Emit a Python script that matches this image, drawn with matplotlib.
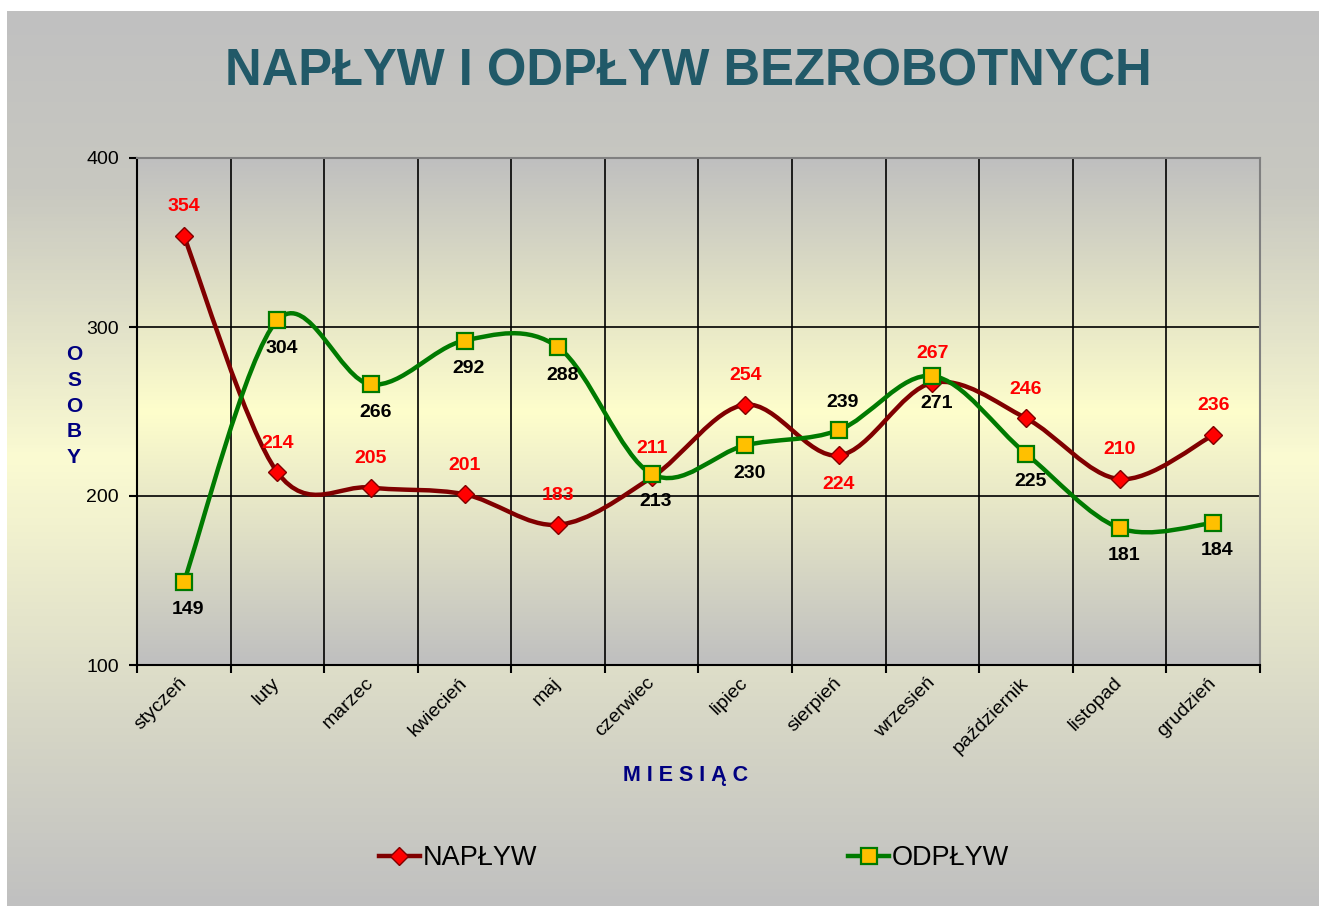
import numpy as np
import matplotlib
matplotlib.use('Agg')
import matplotlib.pyplot as plt
from matplotlib.path import Path
from matplotlib.patches import PathPatch
from matplotlib.lines import Line2D
from matplotlib.colors import LinearSegmentedColormap

plt.rcParams['font.family'] = ['Liberation Sans', 'DejaVu Sans']

# Dane
miesiace = ['styczeń', 'luty', 'marzec', 'kwiecień', 'maj', 'czerwiec', 'lipiec',
            'sierpień', 'wrzesień', 'październik', 'listopad', 'grudzień']
naplyw = [354, 214, 205, 201, 183, 211, 254, 224, 267, 246, 210, 236]
odplyw = [149, 304, 266, 292, 288, 213, 230, 239, 271, 225, 181, 184]
# etykieta nad (1) albo pod (-1) punktem
naplyw_poz = [1, 1, 1, 1, 1, 1, 1, -1, 1, 1, 1, 1]
odplyw_poz = [-1, -1, -1, -1, -1, -1, -1, 1, -1, -1, -1, -1]
os_y = [100, 200, 300, 400]
siatka_y = [200, 300]


def gladka_sciezka(x, y):
    # krzywa Beziera przez punkty (jak wygladzona linia w Excelu)
    pts = np.column_stack([x, y]).astype(float)
    p = np.vstack([pts[0], pts, pts[-1]])
    verts = [pts[0]]
    codes = [Path.MOVETO]
    for i in range(1, len(p) - 2):
        c1 = p[i] + (p[i + 1] - p[i - 1]) / 6
        c2 = p[i + 1] - (p[i + 2] - p[i]) / 6
        verts += [c1, c2, p[i + 1]]
        codes += [Path.CURVE4] * 3
    return Path(verts, codes)


def gradient(ax, kolory, pozycje):
    cmap = LinearSegmentedColormap.from_list('g', list(zip(pozycje, kolory)))
    ax.imshow(np.linspace(0, 1, 256).reshape(-1, 1), cmap=cmap, aspect='auto',
              extent=[0, 1, 0, 1], transform=ax.transAxes, origin='upper', zorder=-5)


W, H = 1319, 906
fig = plt.figure(figsize=(W / 100, H / 100), dpi=100, facecolor='white')

# tlo calego wykresu
tlo = fig.add_axes([7 / W, 0, 1 - 7 / W, 1 - 11 / H], zorder=-10)
gradient(tlo, ['#c0c0c0', '#c8c8c0', '#fbfbd2', '#d6d6c6', '#c0c0c0'], [0, 0.2, 0.5, 0.8, 1])
tlo.set_axis_off()

ax = fig.add_axes([137 / W, 1 - 665 / H, (1260 - 137) / W, (665 - 158) / H])
gradient(ax, ['#bfbfbf', '#fefecc', '#bfbfbf'], [0, 0.5, 1])

x = np.arange(len(miesiace))

# NAPŁYW
ax.add_patch(PathPatch(gladka_sciezka(x, naplyw), fill=False, edgecolor='#800000', lw=3.2, zorder=3))
ax.plot(x, naplyw, ls='none', marker='D', ms=9.5, mfc='#ff0000', mec='#800000', mew=1, zorder=4)
# ODPŁYW
ax.add_patch(PathPatch(gladka_sciezka(x, odplyw), fill=False, edgecolor='#007a00', lw=3.2, zorder=5))
ax.plot(x, odplyw, ls='none', marker='s', ms=11.5, mfc='#ffc000', mec='#007a00', mew=1.6, zorder=6)

for i in range(len(x)):
    ax.annotate(str(naplyw[i]), (x[i], naplyw[i]), xytext=(0, 21 * naplyw_poz[i]),
                textcoords='offset points', ha='center', va='center',
                fontsize=14, fontweight='bold', color='#ff0000', zorder=7)
    ax.annotate(str(odplyw[i]), (x[i], odplyw[i]), xytext=(3, 20 * odplyw_poz[i]),
                textcoords='offset points', ha='center', va='center',
                fontsize=14, fontweight='bold', color='black', zorder=7)

ax.set_xlim(-0.5, len(miesiace) - 0.5)
ax.set_ylim(100, 400)

# siatka
for v in siatka_y:
    ax.axhline(v, color='black', lw=1.2, zorder=1)
for b in np.arange(0.5, len(miesiace) - 0.5, 1):
    ax.axvline(b, color='black', lw=1.2, zorder=1)

ax.set_xticks(x)
ax.set_xticklabels(miesiace, rotation=45, ha='right', va='center', rotation_mode='anchor', fontsize=14)
ax.tick_params(axis='x', which='major', length=0, pad=11)
ax.set_xticks(np.arange(-0.5, len(miesiace), 1), minor=True)
ax.tick_params(axis='x', which='minor', length=6, width=1.5, direction='out')
ax.set_yticks(os_y)
ax.tick_params(axis='y', length=6, width=1.5, direction='out', labelsize=14, pad=7)

ax.spines['left'].set_color('black')
ax.spines['bottom'].set_color('black')
ax.spines['top'].set_color('#808080')
ax.spines['right'].set_color('#808080')
for s in ax.spines.values():
    s.set_linewidth(1.5)

# teksty
fig.text(688 / W, 1 - 72 / H, 'NAPŁYW I ODPŁYW BEZROBOTNYCH', ha='center', va='center',
         fontsize=36.5, fontweight='bold', color='#215968')
fig.text(74 / W, 1 - 406 / H, 'O\nS\nO\nB\nY', ha='center', va='center', linespacing=1.45,
         fontsize=15, fontweight='bold', color='#000080')
fig.text(686 / W, 1 - 776 / H, 'M I E S I Ą C', ha='center', va='center',
         fontsize=15.5, fontweight='bold', color='#000080')

uchwyty = [Line2D([], [], color='#800000', lw=3.2, marker='D', ms=9, mfc='#ff0000', mec='#800000'),
           Line2D([], [], color='#007a00', lw=3.2, marker='s', ms=11, mfc='#ffc000', mec='#007a00', mew=1.6)]
fig.legend(uchwyty, ['NAPŁYW', 'ODPŁYW'], loc='center', bbox_to_anchor=(694 / W, 1 - 858 / H),
           ncol=2, frameon=False, fontsize=19.5, columnspacing=11.5, handlelength=1.5, handletextpad=0.1)

fig.savefig('out.png', dpi=100, facecolor='white')
